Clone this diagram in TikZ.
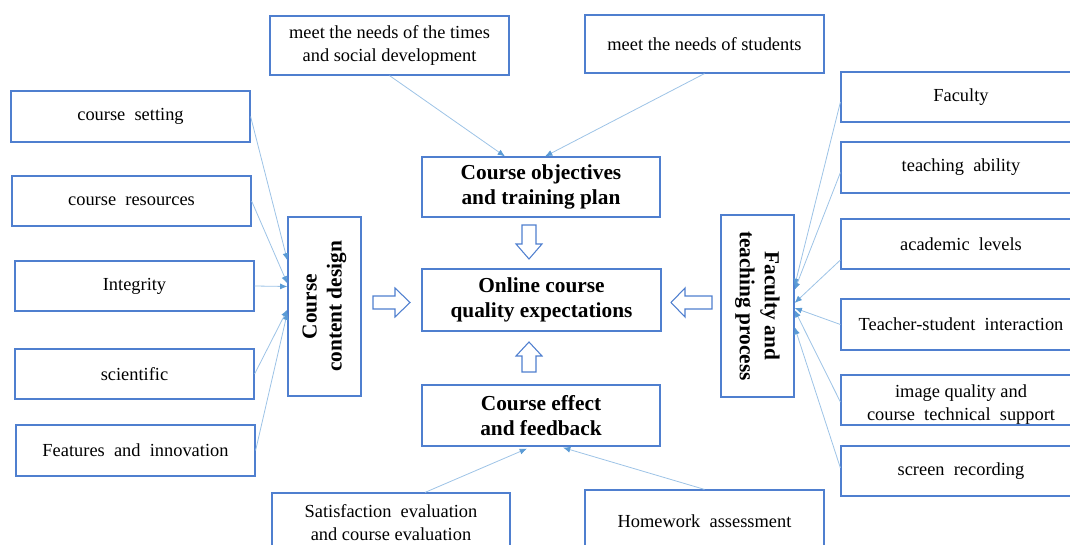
\documentclass[tikz,border=0pt]{standalone}
\usepackage{fontspec}
\setmainfont{Liberation Serif}
\usetikzlibrary{arrows.meta,calc}
\definecolor{boxblue}{HTML}{4F7FCF}
\definecolor{linkblue}{HTML}{9DC3E6}
\definecolor{tipblue}{HTML}{5B9BD5}
\tikzset{
  sz/.style 2 args={minimum width=#1*0.75pt, minimum height=#2*0.75pt},
  normtext/.style={font=\fontsize{13.8}{17.25}\selectfont},
  box/.style={draw=boxblue, line width=0.9pt, rectangle, inner sep=0pt, align=center, normtext},
  bigbox/.style={box, font=\fontsize{16}{18.75}\selectfont\bfseries},
  vtext/.style={inner sep=0pt, align=center, font=\fontsize{16}{18.75}\selectfont\bfseries},
  conn/.style={draw=linkblue, line width=0.6pt, -{Latex[length=5.5pt,width=4.5pt,color=tipblue,fill=tipblue]}},
  blockarrow/.style={draw=boxblue, line width=0.8pt, fill=white, line join=miter}
}
\begin{document}
\begin{tikzpicture}[x=0.75pt,y=-0.75pt]
\useasboundingbox (0,0) rectangle (1070,545);
\clip (0,0) rectangle (1070,545);
% left column
\node[box, sz={239}{51}] (cs) at (130.5,116.5) {course\ \ setting};
\node[box, sz={239}{50}] (cr) at (131.5,201) {course\ \ resources};
\node[box, sz={239}{50}] (ig) at (134.5,286) {Integrity};
\node[box, sz={239}{50}] (sc) at (134.5,374) {scientific};
\node[box, sz={239}{51}] (fi) at (135.5,450.5) {Features\ \ and\ \ innovation};
\node[box, sz={73}{179}] (ccd) at (324.5,306.5) {};
\node[vtext, rotate=90] (ccdt) at (ccd.center) {Course\\content design};
% right column
\node[box, sz={240}{50}] (fa) at (961,97) {Faculty};
\node[box, sz={240}{51}] (ta) at (961,167.5) {teaching\ \ ability};
\node[box, sz={240}{50}] (al) at (961,244) {academic\ \ levels};
\node[box, sz={240}{51}] (ts) at (961,324.5) {Teacher-student\ \ interaction};
\node[box, sz={240}{50}] (iq) at (961,400) {};
\node[normtext, align=center, inner sep=0pt] (iqt) at ($(iq.center)+(0,5)$) {image quality and\\course\ \ technical\ \ support};
\node[box, sz={240}{50}] (sr) at (961,471) {screen\ \ recording};
\node[box, sz={73}{182}] (ftp) at (757.5,306) {};
\node[vtext, rotate=-90] (ftpt) at (ftp.center) {Faculty and\\teaching process};
% top
\node[box, sz={239}{59}] (tm) at (389.5,45.5) {meet the needs of the times\\and social development};
\node[box, sz={239}{58}] (ms) at (704.5,44) {meet the needs of students};
\node[bigbox, sz={238}{60}] (co) at (541,187) {Course objectives\\and training plan};
\node[bigbox, sz={239}{62}] (oq) at (541.5,300) {Online course\\quality expectations};
\node[bigbox, sz={238}{61}] (ce) at (541,415.5) {Course effect\\and feedback};
% bottom
\node[box, sz={238}{59}] (se) at (391,522.5) {Satisfaction\ \ evaluation\\and course evaluation};
\node[box, sz={239}{62}] (hw) at (704.5,521) {Homework\ \ assessment};
% connectors left
\draw[conn] (cs.east) -- ($(ccd.west)+(0,-46)$);
\draw[conn] (cr.east) -- ($(ccd.west)+(0,-23)$);
\draw[conn] (ig.east) -- ($(ccd.west)+(0,-20)$);
\draw[conn] (sc.east) -- ($(ccd.west)+(0,3)$);
\draw[conn] (fi.east) -- ($(ccd.west)+(0,6)$);
% connectors right
\draw[conn] ($(fa.west)+(0,5)$) -- ($(ftp.east)+(0,-20)$);
\draw[conn] ($(ta.west)+(0,5)$) -- ($(ftp.east)+(0,-16)$);
\draw[conn] ($(al.west)+(0,16)$) -- ($(ftp.east)+(0,-3)$);
\draw[conn] (ts.west) -- ($(ftp.east)+(0,2)$);
\draw[conn] ($(iq.west)+(0,2)$) -- ($(ftp.east)+(0,4)$);
\draw[conn] ($(sr.west)+(0,-3)$) -- ($(ftp.east)+(0,21)$);
% connectors top / bottom
\draw[conn] (tm.south) -- ($(co.north)+(-36,0)$);
\draw[conn] (ms.south) -- ($(co.north)+(4,0)$);
\draw[conn] ($(se.north)+(34,0)$) -- ($(ce.south)+(-14,2)$);
\draw[conn] (hw.north) -- ($(ce.south)+(22,1)$);
% block arrows
\draw[blockarrow] (373,296) -- (395,296) -- (395,288) -- (410,302.5) -- (395,317) -- (395,309) -- (373,309) -- cycle;
\draw[blockarrow] (712,296) -- (685,296) -- (685,288) -- (671,302.5) -- (685,317) -- (685,309) -- (712,309) -- cycle;
\draw[blockarrow] (522,372) -- (522,356) -- (516,356) -- (529,342) -- (542,356) -- (536,356) -- (536,372) -- cycle;
\draw[blockarrow] (522,225) -- (522,244) -- (516,244) -- (529,259) -- (542,244) -- (536,244) -- (536,225) -- cycle;
\end{tikzpicture}
\end{document}
